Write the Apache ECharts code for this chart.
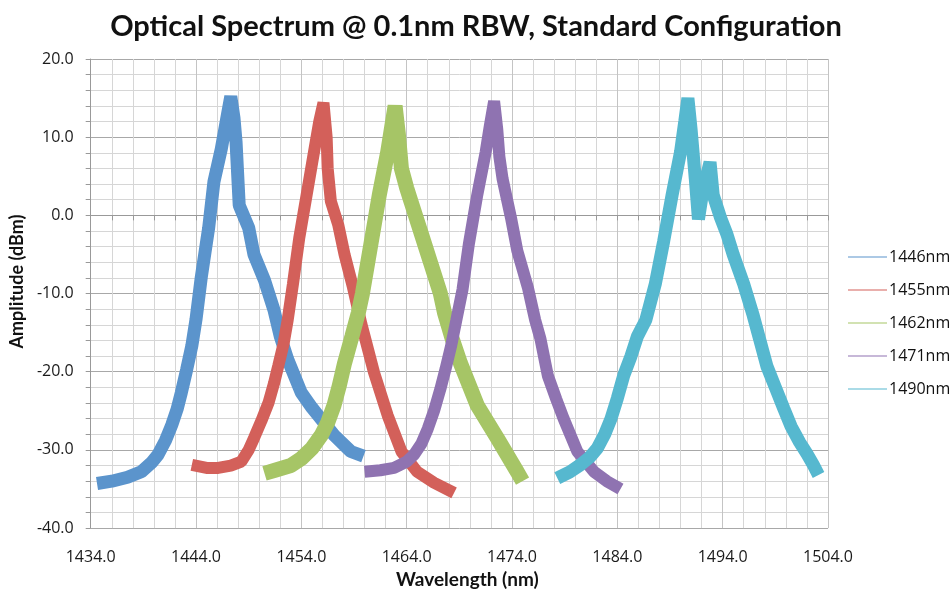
<!DOCTYPE html>
<html>
<head>
<meta charset="utf-8">
<script src="https://cdn.jsdelivr.net/npm/echarts@6/dist/echarts.min.js"></script>
<style>
  html, body { margin: 0; padding: 0; background: #fff; }
  #chart { width: 952px; height: 594px; }
</style>
</head>
<body>
<div id="chart"></div>
<script>
// 各波长的光谱 [波长 nm, 幅度 dBm]
const wl1446 = [[1434.6,-34.3],[1436.0,-34.0],[1437.5,-33.5],[1438.8,-32.8],[1439.8,-31.6],[1440.4,-30.6],[1441.1,-28.8],[1441.7,-26.8],[1442.2,-24.8],[1442.6,-22.7],[1443.1,-19.8],[1443.6,-16.7],[1444.0,-13.3],[1444.5,-7.9],[1445.2,-1.6],[1445.7,4.3],[1446.4,8.5],[1447.0,13.0],[1447.3,15.2],[1447.6,12.5],[1447.8,9.4],[1448.1,1.3],[1449.0,-1.6],[1449.5,-5.0],[1450.5,-8.3],[1451.4,-12.1],[1452.0,-15.5],[1452.7,-18.4],[1454.0,-22.7],[1455.0,-24.6],[1455.6,-25.6],[1457.1,-28.1],[1458.7,-30.2],[1459.9,-30.8]];
const wl1455 = [[1443.6,-31.9],[1445.0,-32.3],[1446.1,-32.3],[1447.3,-32.0],[1448.3,-31.5],[1449.0,-30.0],[1449.5,-28.5],[1450.2,-26.3],[1450.9,-23.9],[1451.4,-21.5],[1451.8,-19.3],[1452.3,-16.5],[1452.7,-13.4],[1453.2,-8.8],[1453.8,-2.9],[1454.5,2.6],[1455.2,8.1],[1455.7,12.0],[1456.1,14.4],[1456.4,10.0],[1456.5,6.0],[1456.8,1.8],[1457.5,-1.2],[1458.1,-5.0],[1458.9,-9.2],[1459.7,-13.9],[1460.9,-20.1],[1462.2,-25.6],[1463.5,-30.2],[1465.0,-32.8],[1466.6,-34.2],[1468.5,-35.5]];
const wl1462 = [[1450.5,-33.0],[1451.5,-32.6],[1453.0,-32.0],[1454.0,-31.1],[1455.0,-29.8],[1455.9,-28.1],[1456.5,-26.5],[1457.1,-24.3],[1457.6,-21.8],[1458.1,-18.9],[1458.8,-15.5],[1459.4,-12.5],[1459.8,-10.0],[1460.6,-3.7],[1461.4,2.6],[1462.2,8.1],[1462.6,11.5],[1462.9,14.0],[1463.2,10.5],[1463.5,6.0],[1464.0,3.5],[1464.4,1.8],[1465.4,-2.4],[1466.3,-6.2],[1467.2,-10.0],[1467.6,-12.5],[1468.3,-15.7],[1469.1,-18.9],[1470.7,-24.3],[1472.6,-28.5],[1474.5,-32.8],[1475.0,-34.0]];
const wl1471 = [[1460.0,-32.8],[1461.5,-32.6],[1462.8,-32.3],[1464.0,-31.5],[1464.7,-30.6],[1465.4,-29.2],[1466.0,-27.3],[1466.6,-25.0],[1467.2,-22.2],[1467.7,-19.6],[1468.2,-16.8],[1468.7,-13.5],[1469.3,-9.5],[1469.9,-3.7],[1470.7,2.6],[1471.5,8.1],[1471.9,11.5],[1472.3,14.6],[1472.6,11.0],[1472.8,7.5],[1473.1,4.7],[1473.9,-0.3],[1474.5,-4.5],[1475.5,-9.2],[1476.2,-13.4],[1476.7,-15.8],[1477.4,-20.5],[1478.2,-23.5],[1478.9,-26.0],[1480.2,-30.2],[1481.8,-32.8],[1483.0,-34.0],[1484.3,-35.0]];
const wl1490 = [[1478.3,-33.6],[1479.5,-32.8],[1480.5,-31.9],[1481.4,-30.9],[1482.1,-29.8],[1482.8,-28.0],[1483.4,-26.0],[1484.0,-23.4],[1484.6,-20.5],[1485.3,-18.0],[1485.9,-15.5],[1486.7,-13.4],[1487.6,-8.8],[1488.4,-3.3],[1489.2,2.6],[1490.0,8.1],[1490.4,12.0],[1490.7,15.0],[1491.0,11.0],[1491.4,4.7],[1491.7,-0.5],[1492.1,3.0],[1492.8,6.8],[1493.1,2.6],[1493.8,-0.3],[1494.4,-2.4],[1495.0,-5.0],[1496.0,-8.8],[1496.9,-12.8],[1497.5,-15.8],[1498.2,-19.3],[1499.0,-22.0],[1499.8,-24.7],[1500.5,-27.0],[1501.3,-29.0],[1502.0,-30.5],[1502.6,-31.9],[1503.1,-33.2]];

const names = ["1446nm", "1455nm", "1462nm", "1471nm", "1490nm"];
const spectra = [wl1446, wl1455, wl1462, wl1471, wl1490];
const colors = ["#5b94cc", "#d3605a", "#a6c566", "#8f73b1", "#56b8cf"];
const widths = [13, 12, 15, 12, 13];

const titleFont = "Lato, 'Open Sans', sans-serif";
const labelFont = "'Open Sans', sans-serif";
const myChart = echarts.init(document.getElementById("chart"));

const option = {
  animation: false,
  color: colors,
  title: {
    text: "Optical Spectrum @ 0.1nm RBW, Standard Configuration",
    left: "center",
    top: 7,
    textStyle: { fontFamily: titleFont, fontSize: 29, fontWeight: "bold", color: "#111" },
  },
  legend: {
    orient: "vertical",
    left: 843,
    top: 244,
    itemWidth: 39,
    itemHeight: 10,
    itemGap: 17,
    icon: "path://M0,4.5 L39,4.5 L39,5.5 L0,5.5 Z",
    textStyle: { fontFamily: labelFont, fontSize: 16, color: "#111", padding: [0, 0, 0, -3] },
    data: names,
  },
  grid: { left: 89, right: 124, top: 59, bottom: 60 },
  xAxis: {
    type: "value",
    min: 1434,
    max: 1504,
    interval: 10,
    name: "Wavelength (nm)",
    nameLocation: "middle",
    nameGap: 34,
    nameTextStyle: { fontFamily: titleFont, fontSize: 19, fontWeight: "bold", color: "#111", padding: [0, 0, 0, 16] },
    axisLine: { lineStyle: { color: "#999" } },
    axisTick: { length: 5, lineStyle: { color: "#999" } },
    minorTick: { show: true, splitNumber: 5, length: 5, lineStyle: { color: "#999" } },
    axisLabel: {
      margin: 21,
      fontFamily: labelFont,
      fontSize: 16,
      color: "#1a1a1a",
      formatter: (v) => v.toFixed(1),
    },
    splitLine: { lineStyle: { color: "#c4c4c4" } },
    minorSplitLine: { show: true, lineStyle: { color: "#d6d6d6" } },
  },
  yAxis: {
    type: "value",
    min: -40,
    max: 20,
    interval: 10,
    name: "Amplitude (dBm)",
    nameLocation: "middle",
    nameGap: 62,
    nameTextStyle: { fontFamily: titleFont, fontSize: 18, fontWeight: "bold", color: "#111", padding: [0, 0, 0, 24] },
    axisLine: { show: true, lineStyle: { color: "#999" } },
    axisTick: { show: true, length: 5, lineStyle: { color: "#999" } },
    minorTick: { show: true, splitNumber: 5, length: 5, lineStyle: { color: "#999" } },
    axisLabel: {
      margin: 17,
      fontFamily: labelFont,
      fontSize: 16,
      color: "#1a1a1a",
      formatter: (v) => v.toFixed(1),
    },
    splitLine: { lineStyle: { color: "#a8a8a8" } },
    minorSplitLine: { show: true, lineStyle: { color: "#d6d6d6" } },
  },
  series: spectra.map((d, i) => ({
    name: names[i],
    type: "line",
    data: d,
    symbol: "none",
    lineStyle: { width: widths[i], color: colors[i], join: "bevel" },
    emphasis: { disabled: true },
  })),
};
myChart.setOption(option);
</script>
</body>
</html>
